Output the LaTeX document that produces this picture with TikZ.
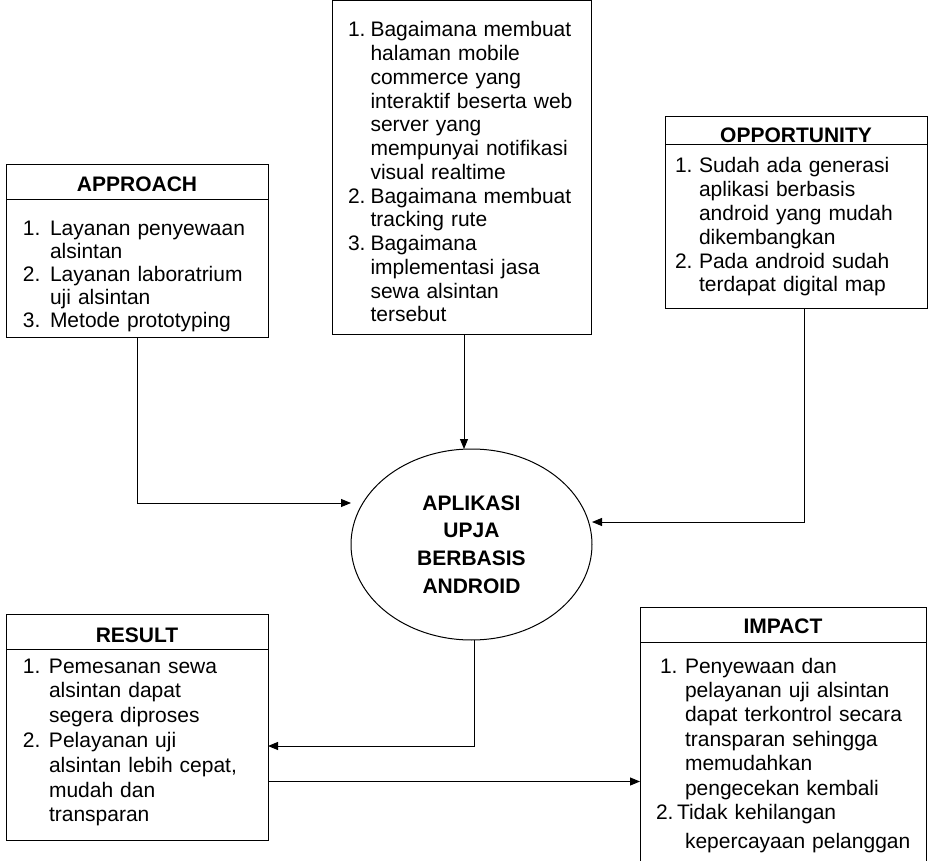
\documentclass[tikz,border=0pt]{standalone}
\usepackage{fontspec}
\setmainfont{Liberation Sans}
\usetikzlibrary{positioning,shapes.geometric,arrows.meta}
\tikzset{
  head/.style={draw, line width=1pt, minimum width=262pt, inner sep=0pt, outer sep=0pt, anchor=north west, font=\fontsize{21}{24}\selectfont\bfseries},
  body/.style={draw, line width=1pt, align=left, inner ysep=0pt, outer sep=0pt, font=\fontsize{21}{#1}\selectfont},
  body/.default=24,
  arr/.style={-{Triangle[length=10pt,width=8pt]}, line width=1pt}
}

\begin{document}
\begin{tikzpicture}[x=1pt, y=-1pt]

  \clip (0,0) rectangle (930,861);

  \node (app) [head, text height=27pt, text depth=8pt] at (6,165) {APPROACH};
  \node (appbody) [body=23, below=0pt of app, inner xsep=17pt, text width=228pt, text height=36pt, text depth=102pt]
    {\begin{tabular}[t]{@{}l@{\hspace{9.5pt}}l@{}}
      1. & Layanan penyewaan\\
         & alsintan\\
      2. & Layanan laboratrium\\
         & uji alsintan\\
      3. & Metode prototyping
    \end{tabular}};

  \node (prob) [body=23.75, anchor=north west, inner xsep=16pt, text width=227pt, text height=36pt, text depth=298pt] at (332,1)
    {\begin{tabular}[t]{@{}l@{\hspace{5pt}}l@{}}
      1. & Bagaimana membuat\\
         & halaman mobile\\
         & commerce yang\\
         & interaktif beserta web\\
         & server yang\\
         & mempunyai notifikasi\\
         & visual realtime\\
      2. & Bagaimana membuat\\
         & tracking rute\\
      3. & Bagaimana\\
         & implementasi jasa\\
         & sewa alsintan\\
         & tersebut
    \end{tabular}};

  \node (opp) [head, text height=26pt, text depth=2pt] at (665,117) {OPPORTUNITY};
  \node (oppbody) [body=23.8, below=0pt of opp, inner xsep=10pt, text width=242pt, text height=28pt, text depth=136pt]
    {\begin{tabular}[t]{@{}l@{\hspace{6.5pt}}l@{}}
      1. & Sudah ada generasi\\
         & aplikasi berbasis\\
         & android yang mudah\\
         & dikembangkan\\
      2. & Pada android sudah\\
         & terdapat digital map
    \end{tabular}};

  \node (upja) [ellipse, draw, line width=1pt, minimum width=241pt, minimum height=191pt, inner sep=0pt, outer sep=0pt,
    align=center, font=\fontsize{21}{27.7}\selectfont\bfseries] at (471.5,544.5) {APLIKASI\\UPJA\\BERBASIS\\ANDROID};

  \node (res) [head, text height=28pt, text depth=7pt] at (6,614) {RESULT};
  \node (resbody) [body=24.8, below=0pt of res, inner xsep=17pt, text width=228pt, text height=24pt, text depth=167pt]
    {\begin{tabular}[t]{@{}l@{\hspace{8.5pt}}l@{}}
      1. & Pemesanan sewa\\
         & alsintan dapat\\
         & segera diproses\\
      2. & Pelayanan uji\\
         & alsintan lebih cepat,\\
         & mudah dan\\
         & transparan
    \end{tabular}};

  \node (imp) [head, minimum width=286pt, text height=26pt, text depth=9pt] at (640,607) {IMPACT};
  \node (impbody) [body=24.4, below=0pt of imp, inner xsep=20pt, text width=246pt, text height=31pt, text depth=227pt]
    {\begin{tabular}[t]{@{}l@{\hspace{7.5pt}}l@{}}
      1. & Penyewaan dan\\
         & pelayanan uji alsintan\\
         & dapat terkontrol secara\\
         & transparan sehingga\\
         & memudahkan\\
         & pengecekan kembali\\
      \multicolumn{2}{@{\hspace{-4pt}}l@{}}{2.\hspace{3.5pt}Tidak kehilangan}\\[4.6pt]
         & kepercayaan pelanggan
    \end{tabular}};

  \draw[arr] (appbody.south) |- ([yshift=41.5pt]upja.west);
  \draw[arr] ([xshift=2.5pt]prob.south) -- ([xshift=2.5pt]prob.south |- upja.north);
  \draw[arr] ([xshift=8pt]oppbody.south) |- ([yshift=22.5pt]upja.east);
  \draw[arr] ([xshift=2.5pt]upja.south) |- ([yshift=-1.5pt]resbody.east);
  \draw[arr] ([yshift=-37pt]resbody.east) -- ([yshift=-37pt]resbody.east -| impbody.west);

\end{tikzpicture}
\end{document}
